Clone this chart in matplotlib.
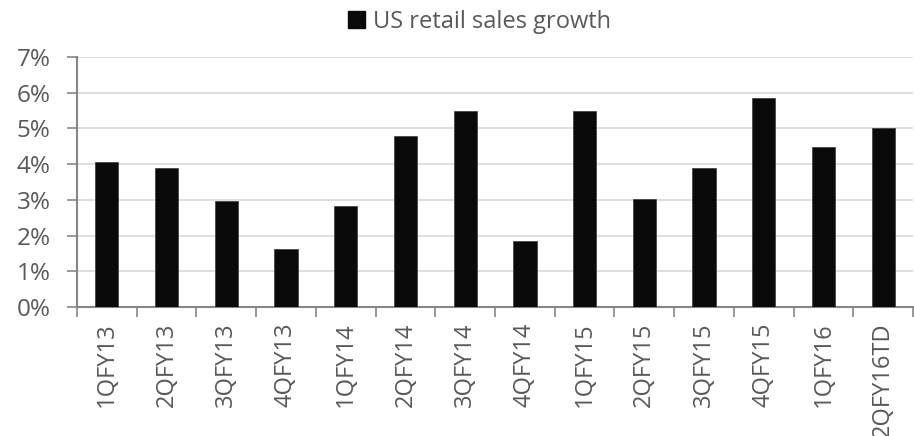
import matplotlib.pyplot as plt
from matplotlib.patches import Patch
from matplotlib.ticker import FuncFormatter, MultipleLocator

# quarterly data
quarters = ['1QFY13', '2QFY13', '3QFY13', '4QFY13', '1QFY14', '2QFY14', '3QFY14',
            '4QFY14', '1QFY15', '2QFY15', '3QFY15', '4QFY15', '1QFY16', '2QFY16TD']
growth = [4.05, 3.9, 2.97, 1.63, 2.83, 4.78, 5.5, 1.85, 5.5, 3.03, 3.88, 5.86, 4.47, 5.01]

TEXT = '#595959'
AXIS = '#868686'
GRID = '#d9d9d9'
BAR = '#0a0a0a'

plt.rcParams['font.family'] = ['Open Sans', 'DejaVu Sans']

fig = plt.figure(figsize=(9.14, 4.36), dpi=100)
ax = fig.add_axes([0.0842, 0.296, 0.9148, 0.573])

x = range(len(quarters))
ax.bar(x, growth, width=0.39, color=BAR, edgecolor='#3a3a3a', linewidth=0.5, zorder=3)

ax.set_xlim(-0.5, len(quarters) - 0.5)
ax.set_ylim(0, 7)
ax.yaxis.set_major_locator(MultipleLocator(1))
ax.yaxis.set_major_formatter(FuncFormatter(lambda v, p: f'{v:.0f}%'))
ax.grid(axis='y', color=GRID, linewidth=1.2, zorder=0)

ax.set_xticks(list(x))
ax.set_xticklabels(quarters, rotation=90, fontsize=17, color=TEXT)
ax.tick_params(axis='x', length=0, pad=11)
# tick marks between categories
ax.set_xticks([i - 0.5 for i in range(len(quarters) + 1)], minor=True)
ax.tick_params(axis='x', which='minor', length=7, width=1.2, color=AXIS)
ax.tick_params(axis='y', length=7, width=1.2, color=AXIS, labelsize=17.5,
               labelcolor=TEXT, pad=12)

for side in ['top', 'right']:
    ax.spines[side].set_visible(False)
for side in ['left', 'bottom']:
    ax.spines[side].set_color(AXIS)
    ax.spines[side].set_linewidth(1.5)

handle = Patch(facecolor=BAR, edgecolor=BAR)
fig.legend([handle], ['US retail sales growth'], loc='center',
           bbox_to_anchor=(0.5246, 0.95), frameon=False, fontsize=17,
           labelcolor=TEXT, handlelength=0.72, handleheight=0.72,
           handletextpad=0.3)

fig.savefig('out.png', dpi=100)
